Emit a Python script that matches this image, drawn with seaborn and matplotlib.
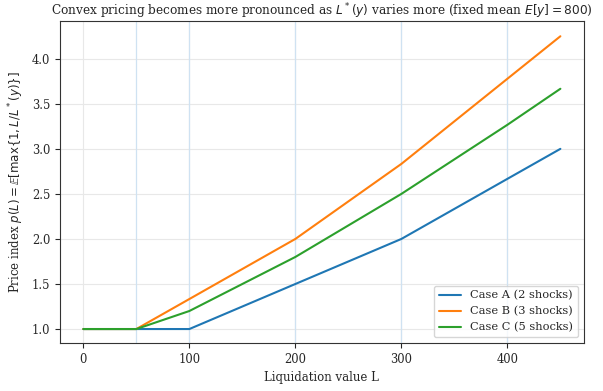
import matplotlib
matplotlib.use("Agg")
import matplotlib.pyplot as plt
import seaborn as sns
import pandas as pd

L_values = [0, 50, 100, 200, 300, 400, 450]
case_a = [1.0, 1.0, 1.0, 1.5, 2.0, 2.667, 3.0]
case_b = [1.0, 1.0, 1.333, 2.0, 2.833, 3.778, 4.25]
case_c = [1.0, 1.0, 1.2, 1.8, 2.5, 3.267, 3.667]
labels = ["Case A (2 shocks)", "Case B (3 shocks)", "Case C (5 shocks)"]
shock_lines = [50, 100, 200, 300, 400]

rows = []
for lab, vals in zip(labels, [case_a, case_b, case_c]):
    for x, y in zip(L_values, vals):
        rows.append({"L": x, "p": y, "case": lab})
df = pd.DataFrame(rows)

sns.set_style("ticks")
plt.rcParams["font.family"] = ["DejaVu Serif"]
plt.rcParams["mathtext.fontset"] = "dejavusans"

fig, ax = plt.subplots(figsize=(6.03, 3.91), dpi=100)
ax.grid(True, color="#e8e8e8", linewidth=0.8)
for v in shock_lines:
    ax.axvline(v, color="#cfe2f2", linewidth=0.9, zorder=0.6)

sns.lineplot(data=df, x="L", y="p", hue="case",
             palette=["#1f77b4", "#ff7f0e", "#2ca02c"], linewidth=1.5, ax=ax)

ax.set_xlabel("Liquidation value L", fontsize=8.5)
ax.set_ylabel(r"Price index $p(L)=\mathbb{E}[\max\{1, L/L^*(y)\}]$", fontsize=8.5)
ax.set_title(r"Convex pricing becomes more pronounced as $L^*(y)$ varies more (fixed mean $E[y]=800$)",
             fontsize=8.7, pad=1.5)
ax.set_xticks([0, 100, 200, 300, 400])
ax.set_yticks([1.0, 1.5, 2.0, 2.5, 3.0, 3.5, 4.0])
ax.tick_params(labelsize=8.3)
ax.set_xlim(-22, 472)
ax.set_ylim(0.846, 4.418)
for s in ax.spines.values():
    s.set_color("#333333")
ax.legend(title=None, loc="lower right", fontsize=8.2, framealpha=0.8)

fig.subplots_adjust(left=0.0995, right=0.968, top=0.946, bottom=0.123)
fig.savefig("out.png", dpi=100)
